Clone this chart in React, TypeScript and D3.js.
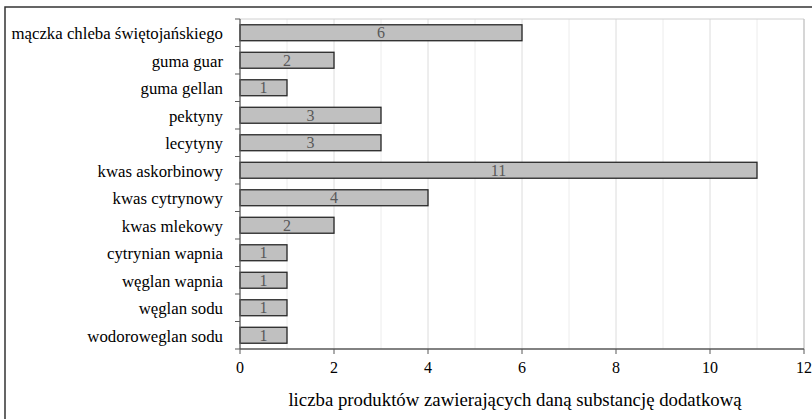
import React from "react";
import * as d3 from "d3";

const categories = [
  "mączka chleba świętojańskiego",
  "guma guar",
  "guma gellan",
  "pektyny",
  "lecytyny",
  "kwas askorbinowy",
  "kwas cytrynowy",
  "kwas mlekowy",
  "cytrynian wapnia",
  "węglan wapnia",
  "węglan sodu",
  "wodoroweglan sodu",
];
const values = [6, 2, 1, 3, 3, 11, 4, 2, 1, 1, 1, 1];
const xTicks = [0, 2, 4, 6, 8, 10, 12];
const minorTicks = [1, 3, 5, 7, 9, 11];
const axisTitle = "liczba produktów zawierających daną substancję dodatkową";

export default function App() {
  const W = 812, H = 419;
  const left = 240, right = 804, top = 19, bottom = 349;
  const x = d3.scaleLinear().domain([0, 12]).range([left, right]);
  const y = d3.scaleBand<string>().domain(categories).range([top, bottom]).paddingInner(0.42).paddingOuter(0.21);
  const band = (bottom - top) / categories.length;
  const font = '"Liberation Serif", "DejaVu Serif", serif';
  return (
    <svg width={W} height={H} style={{ position: "fixed", left: 0, top: 0, background: "#fff", fontFamily: font }}>
      <rect x={5} y={7} width={820} height={430} fill="#fff" stroke="#333" strokeWidth={1.5} />
      {minorTicks.map((t) => (
        <line key={"m" + t} x1={x(t)} x2={x(t)} y1={top} y2={bottom} stroke="#ececec" strokeWidth={1} />
      ))}
      {xTicks.slice(1).map((t) => (
        <line key={"g" + t} x1={x(t)} x2={x(t)} y1={top} y2={bottom} stroke="#dcdcdc" strokeWidth={1} />
      ))}
      <line x1={left} x2={right} y1={top} y2={top} stroke="#d0d0d0" strokeWidth={1} />
      <line x1={right} x2={right} y1={top} y2={bottom} stroke="#bfbfbf" strokeWidth={1} />
      {categories.map((c, i) => (
        <g key={c}>
          <rect
            x={x(0)}
            y={y(c)!}
            width={x(values[i]) - x(0)}
            height={y.bandwidth()}
            fill="#c0c0c0"
            stroke="#262626"
            strokeWidth={1.3}
          />
          <text
            x={(x(0) + x(values[i])) / 2}
            y={y(c)! + y.bandwidth() / 2 + 5.5}
            textAnchor="middle"
            fontSize={16}
            fill="#595959"
            style={{ fontFamily: font }}
          >
            {values[i]}
          </text>
          <text x={223} y={y(c)! + y.bandwidth() / 2 + 6.5} textAnchor="end" fontSize={16.8} fill="#000" style={{ fontFamily: font }}>
            {c}
          </text>
        </g>
      ))}
      {d3.range(categories.length + 1).map((i) => (
        <line key={"yt" + i} x1={left - 5} x2={left} y1={top + i * band} y2={top + i * band} stroke="#595959" strokeWidth={1} />
      ))}
      <line x1={left} x2={left} y1={top} y2={bottom} stroke="#595959" strokeWidth={1.3} />
      <line x1={left} x2={right} y1={bottom} y2={bottom} stroke="#595959" strokeWidth={1.3} />
      {xTicks.map((t) => (
        <g key={"xt" + t}>
          <line x1={x(t)} x2={x(t)} y1={bottom} y2={bottom + 5} stroke="#595959" strokeWidth={1} />
          <text x={x(t)} y={372.5} textAnchor="middle" fontSize={16} fill="#000" style={{ fontFamily: font }}>
            {t}
          </text>
        </g>
      ))}
      <text x={515} y={406} textAnchor="middle" fontSize={18.8} fill="#000" style={{ fontFamily: font }}>
        {axisTitle}
      </text>
    </svg>
  );
}
